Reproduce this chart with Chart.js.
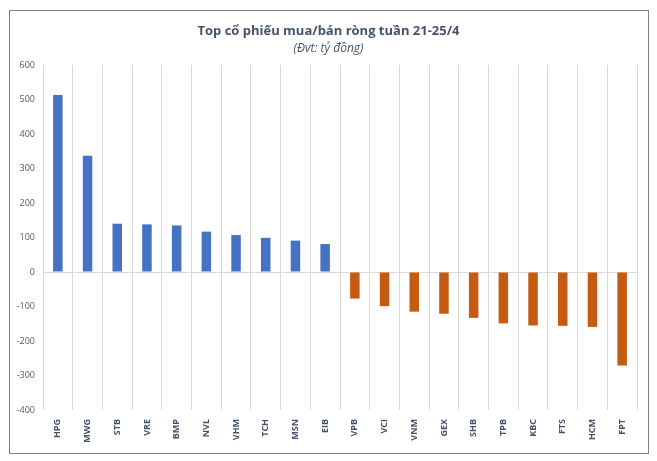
<!DOCTYPE html>
<html lang="vi">
<head>
    <meta charset="UTF-8">
    <title>Top cổ phiếu mua/bán ròng tuần 21-25/4</title>
    <style>
        html, body {
            margin: 0;
            padding: 0;
            background: #ffffff;
        }
        .wrap {
            position: relative;
            width: 657px;
            height: 461px;
        }
        .frame {
            position: absolute;
            left: 9px;
            top: 10px;
            width: 638px;
            height: 442px;
            border: 1px solid #7f7f7f;
            pointer-events: none;
        }
        canvas {
            position: absolute;
            left: 0;
            top: 0;
        }
    </style>
</head>
<body>
<div class="wrap">
    <canvas id="netChart" width="657" height="461"></canvas>
    <div class="frame"></div>
</div>

<script src="https://cdn.jsdelivr.net/npm/chart.js@4/dist/chart.umd.min.js"></script>
<script>
    // Net buying (positive) and net selling (negative), billion VND
    const buyTickers = ['HPG', 'MWG', 'STB', 'VRE', 'BMP', 'NVL', 'VHM', 'TCH', 'MSN', 'EIB'];
    const buyValues = [513, 337, 140, 138, 135, 117, 107, 99, 91, 81];
    const sellTickers = ['VPB', 'VCI', 'VNM', 'GEX', 'SHB', 'TPB', 'KBC', 'FTS', 'HCM', 'FPT'];
    const sellValues = [-77, -99, -115, -121, -133, -149, -155, -156, -159, -271];
    const yTicks = [600, 500, 400, 300, 200, 100, 0, -100, -200, -300, -400];

    const labels = buyTickers.concat(sellTickers);
    const values = buyValues.concat(sellValues);
    const colors = values.map(v => v >= 0 ? '#4472c4' : '#c55a11');

    const ctx = document.getElementById('netChart').getContext('2d');
    new Chart(ctx, {
        type: 'bar',
        data: {
            labels: labels,
            datasets: [{
                data: values,
                backgroundColor: colors,
                borderWidth: 0,
                categoryPercentage: 1,
                barPercentage: 0.32
            }]
        },
        options: {
            responsive: false,
            animation: false,
            layout: {
                // symmetric side padding keeps the title centred in the frame
                padding: { left: 10, right: 10, top: 0, bottom: 0 }
            },
            plugins: {
                legend: { display: false },
                tooltip: { enabled: false },
                title: {
                    display: true,
                    text: 'Top cổ phiếu mua/bán ròng tuần 21-25/4',
                    color: '#44546a',
                    font: { family: 'Open Sans', size: 13, weight: 'bold' },
                    padding: { top: 23, bottom: 3 }
                },
                subtitle: {
                    display: true,
                    text: '(Đvt: tỷ đồng)',
                    color: '#44546a',
                    font: { family: 'Open Sans', size: 12, style: 'italic' },
                    padding: { top: 0, bottom: 9 }
                }
            },
            scales: {
                x: {
                    afterFit: scale => { scale.height = 51; },
                    border: { display: false },
                    grid: {
                        offset: true,
                        color: '#d9d9d9',
                        drawTicks: false
                    },
                    ticks: {
                        color: '#44546a',
                        font: { family: 'Open Sans', size: 9, weight: 'bold' },
                        minRotation: 90,
                        maxRotation: 90,
                        padding: 9,
                        autoSkip: false
                    }
                },
                y: {
                    min: -400,
                    max: 600,
                    afterFit: scale => { scale.width = 33; },
                    afterBuildTicks: scale => {
                        scale.ticks = yTicks.map(v => ({ value: v }));
                    },
                    border: { display: false },
                    grid: {
                        color: c => c.tick && c.tick.value === 0 ? '#d9d9d9' : 'rgba(0,0,0,0)',
                        drawTicks: false
                    },
                    ticks: {
                        color: '#595959',
                        font: { family: 'Open Sans', size: 9 },
                        padding: 8
                    }
                },
                // empty spacer on the right so the plot ends where the original does
                spacer: {
                    position: 'right',
                    afterFit: scale => { scale.width = 10; },
                    border: { display: false },
                    grid: { display: false },
                    ticks: { display: false }
                }
            }
        }
    });
</script>
</body>
</html>
